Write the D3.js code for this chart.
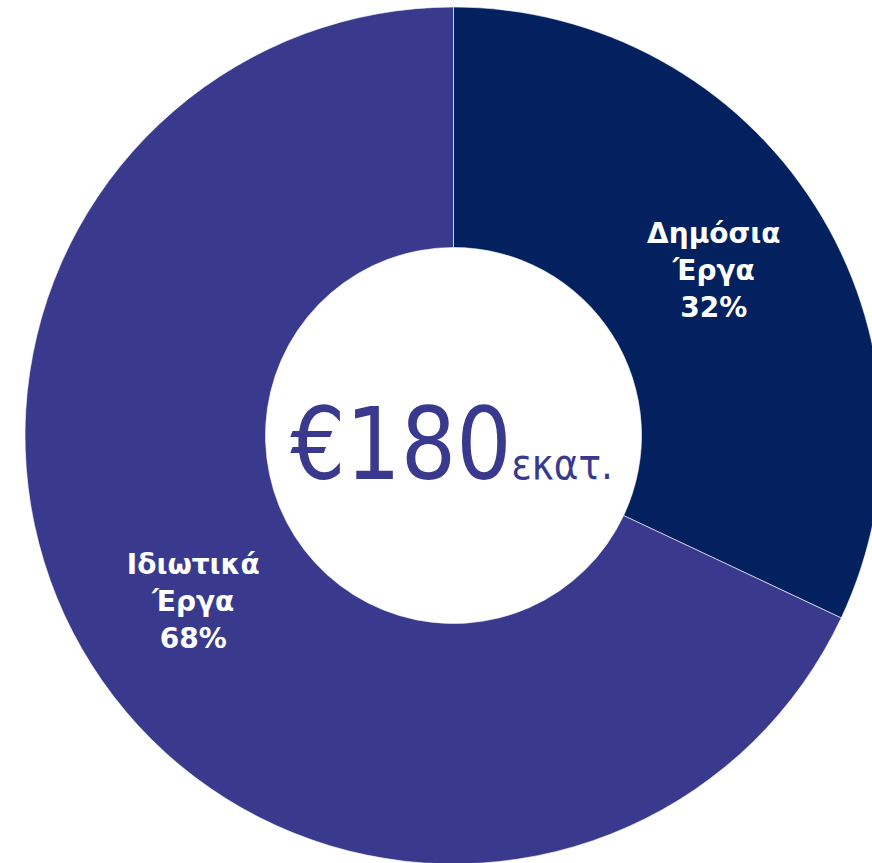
<!DOCTYPE html>
<html>
<head>
<meta charset="utf-8">
<script src="https://cdn.jsdelivr.net/npm/d3@7"></script>
<style>
html,body{margin:0;padding:0;background:#fff;overflow:hidden}
svg{display:block}
</style>
</head>
<body>
<svg id="chart" width="872" height="863"></svg>
<script>
const categories = [["Δημόσια", "Έργα"], ["Ιδιωτικά", "Έργα"]];
const values = [32, 68];
const colors = ["#03205F", "#393A8E"];
const centerMain = "€180";
const centerUnit = "εκατ.";

const svg = d3.select("#chart");
const cx = 453.5, cy = 435.5, outerR = 428.5, innerR = 188;

const data = values.map((v, i) => ({ label: categories[i], value: v, color: colors[i] }));
const pie = d3.pie().value(d => d.value).sort(null);
const arc = d3.arc().innerRadius(innerR).outerRadius(outerR);
const arcs = pie(data);

const g = svg.append("g").attr("transform", `translate(${cx},${cy})`);

g.selectAll("path.slice").data(arcs).join("path")
  .attr("class", "slice")
  .attr("d", arc)
  .attr("fill", d => d.data.color)
  .attr("stroke", "#ffffff")
  .attr("stroke-width", 0.6);

const labelG = g.selectAll("text.lbl").data(arcs).join("text")
  .attr("class", "lbl")
  .attr("transform", d => { const c = arc.centroid(d); return `translate(${c[0]},${c[1]})`; })
  .attr("text-anchor", "middle")
  .attr("fill", "#ffffff")
  .attr("font-family", "'DejaVu Sans', Verdana, sans-serif")
  .attr("font-weight", "bold")
  .attr("font-size", 28);

labelG.each(function(d) {
  const lines = [...d.data.label, d3.format("d")(d.data.value) + "%"];
  const t = d3.select(this);
  const lh = 37;
  lines.forEach((ln, i) => {
    t.append("tspan").attr("x", 0).attr("y", (i - (lines.length - 1) / 2) * lh + 10).text(ln);
  });
});

const ct = g.append("text")
  .attr("transform", "translate(-2,43) scale(0.87,1)")
  .attr("text-anchor", "middle")
  .attr("fill", "#393A8E")
  .attr("font-family", "'DejaVu Sans', Verdana, sans-serif");
ct.append("tspan").attr("font-size", 100).text(centerMain);
ct.append("tspan").attr("font-size", 43).text(centerUnit);
</script>
</body>
</html>
